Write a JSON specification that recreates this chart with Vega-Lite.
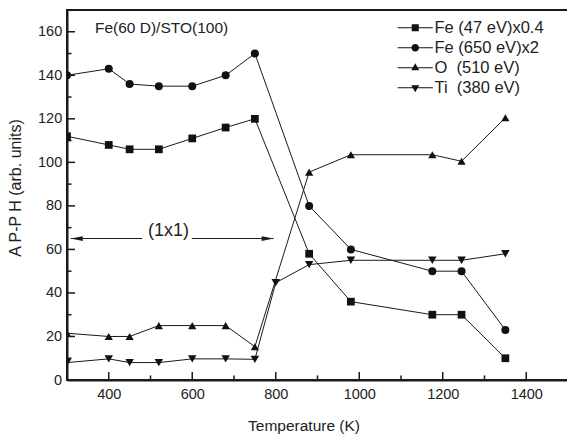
{
  "$schema": "https://vega.github.io/schema/vega-lite/v6.json",
  "width": 501,
  "height": 370,
  "autosize": {"type": "none"},
  "padding": {"left": 67, "top": 10, "right": 0, "bottom": 54},
  "background": "white",
  "config": {
    "view": {"stroke": "#1a1a1a", "strokeWidth": 2},
    "font": "Liberation Sans",
    "axis": {
      "grid": false,
      "ticks": false,
      "domainColor": "#1a1a1a",
      "domainWidth": 2,
      "labelColor": "#222",
      "titleColor": "#222",
      "labelFont": "Liberation Sans",
      "titleFont": "Liberation Sans",
      "labelFontSize": 14.5,
      "titleFontSize": 15.5,
      "titleFontWeight": "normal",
      "labelOverlap": false,
      "labelFlush": false
    }
  },
  "datasets": {
    "pts": [
      {"series": "Fe (47 eV)x0.4", "T": 300, "v": 112},
      {"series": "Fe (47 eV)x0.4", "T": 400, "v": 108},
      {"series": "Fe (47 eV)x0.4", "T": 450, "v": 106},
      {"series": "Fe (47 eV)x0.4", "T": 520, "v": 106},
      {"series": "Fe (47 eV)x0.4", "T": 600, "v": 111},
      {"series": "Fe (47 eV)x0.4", "T": 680, "v": 116},
      {"series": "Fe (47 eV)x0.4", "T": 750, "v": 120},
      {"series": "Fe (47 eV)x0.4", "T": 880, "v": 58},
      {"series": "Fe (47 eV)x0.4", "T": 980, "v": 36},
      {"series": "Fe (47 eV)x0.4", "T": 1175, "v": 30},
      {"series": "Fe (47 eV)x0.4", "T": 1245, "v": 30},
      {"series": "Fe (47 eV)x0.4", "T": 1350, "v": 10},
      {"series": "Fe (650 eV)x2", "T": 300, "v": 140},
      {"series": "Fe (650 eV)x2", "T": 400, "v": 143},
      {"series": "Fe (650 eV)x2", "T": 450, "v": 136},
      {"series": "Fe (650 eV)x2", "T": 520, "v": 135},
      {"series": "Fe (650 eV)x2", "T": 600, "v": 135},
      {"series": "Fe (650 eV)x2", "T": 680, "v": 140},
      {"series": "Fe (650 eV)x2", "T": 750, "v": 150},
      {"series": "Fe (650 eV)x2", "T": 880, "v": 80},
      {"series": "Fe (650 eV)x2", "T": 980, "v": 60},
      {"series": "Fe (650 eV)x2", "T": 1175, "v": 50},
      {"series": "Fe (650 eV)x2", "T": 1245, "v": 50},
      {"series": "Fe (650 eV)x2", "T": 1350, "v": 23},
      {"series": "O \u00a0(510 eV)", "T": 300, "v": 21.5},
      {"series": "O \u00a0(510 eV)", "T": 400, "v": 20},
      {"series": "O \u00a0(510 eV)", "T": 450, "v": 20},
      {"series": "O \u00a0(510 eV)", "T": 520, "v": 25},
      {"series": "O \u00a0(510 eV)", "T": 600, "v": 25},
      {"series": "O \u00a0(510 eV)", "T": 680, "v": 25},
      {"series": "O \u00a0(510 eV)", "T": 750, "v": 15.3},
      {"series": "O \u00a0(510 eV)", "T": 880, "v": 95.5},
      {"series": "O \u00a0(510 eV)", "T": 980, "v": 103.5},
      {"series": "O \u00a0(510 eV)", "T": 1175, "v": 103.5},
      {"series": "O \u00a0(510 eV)", "T": 1245, "v": 100.5},
      {"series": "O \u00a0(510 eV)", "T": 1350, "v": 120.5},
      {"series": "Ti \u00a0(380 eV)", "T": 300, "v": 8},
      {"series": "Ti \u00a0(380 eV)", "T": 400, "v": 9.7},
      {"series": "Ti \u00a0(380 eV)", "T": 450, "v": 8},
      {"series": "Ti \u00a0(380 eV)", "T": 520, "v": 8},
      {"series": "Ti \u00a0(380 eV)", "T": 600, "v": 9.7},
      {"series": "Ti \u00a0(380 eV)", "T": 680, "v": 9.7},
      {"series": "Ti \u00a0(380 eV)", "T": 750, "v": 9.5},
      {"series": "Ti \u00a0(380 eV)", "T": 800, "v": 44.7},
      {"series": "Ti \u00a0(380 eV)", "T": 880, "v": 53},
      {"series": "Ti \u00a0(380 eV)", "T": 980, "v": 55},
      {"series": "Ti \u00a0(380 eV)", "T": 1175, "v": 55},
      {"series": "Ti \u00a0(380 eV)", "T": 1245, "v": 55},
      {"series": "Ti \u00a0(380 eV)", "T": 1350, "v": 58}
    ],
    "arrows": [
      {"T": 309, "T2": 480, "v": 65},
      {"T": 599, "T2": 795, "v": 65}
    ],
    "heads": [
      {"T": 309, "v": 65, "dir": "left"},
      {"T": 795, "v": 65, "dir": "right"}
    ],
    "xticks": [
      {"T": 400, "kind": "major"}, {"T": 600, "kind": "major"}, {"T": 800, "kind": "major"},
      {"T": 1000, "kind": "major"}, {"T": 1200, "kind": "major"}, {"T": 1400, "kind": "major"},
      {"T": 500, "kind": "minor"}, {"T": 700, "kind": "minor"}, {"T": 900, "kind": "minor"},
      {"T": 1100, "kind": "minor"}, {"T": 1300, "kind": "minor"}
    ],
    "yticks": [
      {"v": 20, "kind": "major"}, {"v": 40, "kind": "major"}, {"v": 60, "kind": "major"},
      {"v": 80, "kind": "major"}, {"v": 100, "kind": "major"}, {"v": 120, "kind": "major"},
      {"v": 140, "kind": "major"}, {"v": 160, "kind": "major"},
      {"v": 10, "kind": "minor"}, {"v": 30, "kind": "minor"}, {"v": 50, "kind": "minor"},
      {"v": 70, "kind": "minor"}, {"v": 90, "kind": "minor"}, {"v": 110, "kind": "minor"},
      {"v": 130, "kind": "minor"}, {"v": 150, "kind": "minor"}
    ]
  },
  "layer": [
    {
      "data": {"name": "xticks"},
      "transform": [{"filter": "datum.kind === 'major'"}],
      "mark": {"type": "rule", "strokeWidth": 1.5, "color": "#1a1a1a"},
      "encoding": {
        "x": {"field": "T", "type": "quantitative", "scale": {"domain": [300, 1500], "nice": false, "zero": false}, "axis": null},
        "y": {"datum": 0, "type": "quantitative", "scale": {"domain": [0, 170], "nice": false}, "axis": null},
        "y2": {"datum": 3.7}
      }
    },
    {
      "data": {"name": "xticks"},
      "transform": [{"filter": "datum.kind === 'minor'"}],
      "mark": {"type": "rule", "strokeWidth": 1.5, "color": "#1a1a1a"},
      "encoding": {
        "x": {"field": "T", "type": "quantitative", "scale": {"domain": [300, 1500], "nice": false, "zero": false}, "axis": null},
        "y": {"datum": 0, "type": "quantitative", "scale": {"domain": [0, 170], "nice": false}, "axis": null},
        "y2": {"datum": 2.1}
      }
    },
    {
      "data": {"name": "yticks"},
      "transform": [{"filter": "datum.kind === 'major'"}],
      "mark": {"type": "rule", "strokeWidth": 1.5, "color": "#1a1a1a"},
      "encoding": {
        "x": {"datum": 300, "type": "quantitative", "scale": {"domain": [300, 1500], "nice": false, "zero": false}, "axis": null},
        "x2": {"datum": 319.2},
        "y": {"field": "v", "type": "quantitative", "scale": {"domain": [0, 170], "nice": false}, "axis": null}
      }
    },
    {
      "data": {"name": "yticks"},
      "transform": [{"filter": "datum.kind === 'minor'"}],
      "mark": {"type": "rule", "strokeWidth": 1.5, "color": "#1a1a1a"},
      "encoding": {
        "x": {"datum": 300, "type": "quantitative", "scale": {"domain": [300, 1500], "nice": false, "zero": false}, "axis": null},
        "x2": {"datum": 310.8},
        "y": {"field": "v", "type": "quantitative", "scale": {"domain": [0, 170], "nice": false}, "axis": null}
      }
    },
    {
      "encoding": {
        "x": {
          "field": "T",
          "type": "quantitative",
          "scale": {"domain": [300, 1500], "nice": false, "zero": false},
          "axis": {
            "orient": "bottom",
            "values": [400, 600, 800, 1000, 1200, 1400],
            "labelBaseline": "alphabetic",
            "labelPadding": 18,
            "title": "Temperature (K)",
            "titleX": 236.5,
            "titleY": 50,
            "titleBaseline": "alphabetic",
            "titleAlign": "center",
            "format": "d"
          }
        },
        "y": {
          "field": "v",
          "type": "quantitative",
          "scale": {"domain": [0, 170], "nice": false},
          "axis": {
            "orient": "left",
            "values": [0, 20, 40, 60, 80, 100, 120, 140, 160],
            "labelPadding": 5.3,
            "title": "A P-P H (arb. units)",
            "titleFontSize": 16,
            "titleX": -46.3,
            "titleY": 177.5,
            "titleAngle": 270,
            "titleBaseline": "alphabetic",
            "titleAlign": "center"
          }
        }
      },
      "layer": [
        {
          "data": {"name": "pts"},
          "mark": {"type": "line", "clip": true, "strokeWidth": 1, "color": "#1a1a1a"},
          "encoding": {"detail": {"field": "series"}}
        },
        {
          "data": {"name": "pts"},
          "mark": {"type": "point", "clip": true, "filled": true, "opacity": 1, "color": "#111"},
          "encoding": {
            "shape": {
              "field": "series",
              "scale": {
                "domain": ["Fe (47 eV)x0.4", "Fe (650 eV)x2", "O \u00a0(510 eV)", "Ti \u00a0(380 eV)"],
                "range": ["square", "circle", "triangle-up", "triangle-down"]
              },
              "legend": null
            },
            "size": {
              "field": "series",
              "type": "nominal",
              "scale": {
                "domain": ["Fe (47 eV)x0.4", "Fe (650 eV)x2", "O \u00a0(510 eV)", "Ti \u00a0(380 eV)"],
                "range": [60, 72, 95, 95]
              },
              "legend": null
            }
          }
        },
        {
          "data": {"name": "pts"},
          "mark": {"type": "point", "filled": true, "opacity": 0, "color": "#111"},
          "encoding": {
            "shape": {
              "field": "series",
              "scale": {
                "domain": ["Fe (47 eV)x0.4", "Fe (650 eV)x2", "O \u00a0(510 eV)", "Ti \u00a0(380 eV)"],
                "range": [
                  "M-2.2,-0.06H2.2V0.06H-2.2ZM-0.44,-0.44H0.44V0.44H-0.44Z",
                  "M-2.2,-0.06H2.2V0.06H-2.2ZM0.47,0A0.47,0.47,0,1,1,-0.47,0A0.47,0.47,0,1,1,0.47,0Z",
                  "M-2.2,-0.06H2.2V0.06H-2.2ZM0,-0.55L0.5,0.32L-0.5,0.32Z",
                  "M-2.2,-0.06H2.2V0.06H-2.2ZM0,0.55L-0.5,-0.32L0.5,-0.32Z"
                ]
              },
              "legend": {
                "orient": "none",
                "legendX": 340,
                "legendY": 9.5,
                "title": null,
                "symbolSize": 256,
                "symbolStrokeWidth": 0,
                "symbolFillColor": "#111",
                "symbolStrokeColor": "#111",
                "symbolOpacity": 1,
                "labelFontSize": 16.5,
                "labelFont": "Liberation Sans",
                "labelColor": "#222",
                "labelOffset": 11,
                "rowPadding": 3,
                "padding": 0
              }
            }
          }
        },
        {
          "data": {"name": "arrows"},
          "mark": {"type": "rule", "strokeWidth": 1, "color": "#1a1a1a"},
          "encoding": {"x2": {"field": "T2"}}
        },
        {
          "data": {"name": "heads"},
          "transform": [{"filter": "datum.dir === 'left'"}],
          "mark": {"type": "point", "filled": true, "opacity": 1, "color": "#1a1a1a", "size": 36, "shape": "M0,0L4,-0.8L4,0.8Z"},
          "encoding": {}
        },
        {
          "data": {"name": "heads"},
          "transform": [{"filter": "datum.dir === 'right'"}],
          "mark": {"type": "point", "filled": true, "opacity": 1, "color": "#1a1a1a", "size": 36, "shape": "M0,0L-4,-0.8L-4,0.8Z"},
          "encoding": {}
        },
        {
          "data": {"values": [{"T": 543, "v": 66, "label": "(1x1)"}]},
          "mark": {"type": "text", "fontSize": 18, "font": "Liberation Sans", "color": "#222", "align": "center", "baseline": "alphabetic"},
          "encoding": {"text": {"field": "label"}}
        },
        {
          "data": {"values": [{"T": 367, "v": 159.5, "label": "Fe(60 D)/STO(100)"}]},
          "mark": {"type": "text", "fontSize": 15.5, "font": "Liberation Sans", "color": "#222", "align": "left", "baseline": "alphabetic"},
          "encoding": {"text": {"field": "label"}}
        }
      ],
      "resolve": {"scale": {"shape": "independent", "size": "independent"}}
    }
  ],
  "resolve": {"axis": {"x": "independent", "y": "independent"}}
}
